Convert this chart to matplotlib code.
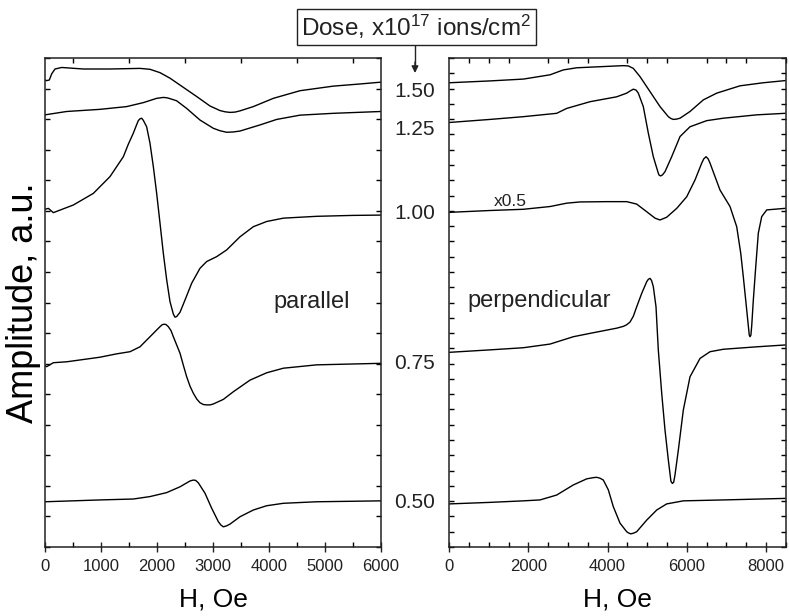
import matplotlib
matplotlib.use('Agg')
import matplotlib.pyplot as plt
from matplotlib.ticker import MultipleLocator, NullFormatter
import matplotlib.transforms as mtransforms

plt.rcParams['font.family'] = ['Liberation Sans', 'DejaVu Sans']
plt.rcParams['mathtext.default'] = 'regular'

# parallel geometry, H in Oe, amplitude in a.u. (offset stacked)
par_150_h = [0, 30, 77, 119, 179, 298, 685, 1161, 1696, 1875, 2054, 2232, 2470, 2708, 2946,
             3125, 3214, 3304, 3393, 3482, 3720, 4077, 4554, 5149, 5625, 6000]
par_150_a = [15.28, 15.26, 15.28, 15.48, 15.64, 15.69, 15.64, 15.64, 15.66, 15.63, 15.52, 15.34,
             15.04, 14.74, 14.43, 14.28, 14.24, 14.22, 14.23, 14.27, 14.41, 14.68, 14.93, 15.08,
             15.15, 15.21]

par_125_h = [0, 387, 982, 1458, 1756, 1994, 2113, 2173, 2232, 2351, 2530, 2768, 3006, 3125,
             3244, 3363, 3482, 3839, 4137, 4554, 5149, 6000]
par_125_a = [14.14, 14.25, 14.32, 14.41, 14.54, 14.68, 14.71, 14.70, 14.67, 14.60, 14.35, 13.97,
             13.70, 13.62, 13.57, 13.58, 13.61, 13.81, 13.99, 14.13, 14.19, 14.25]

par_100_h = [0, 60, 149, 506, 863, 1161, 1399, 1488, 1577, 1637, 1666, 1696, 1726, 1756, 1815,
             1875, 1935, 1994, 2054, 2113, 2173, 2232, 2292, 2321, 2351, 2411, 2500, 2619, 2768,
             2887, 3065, 3244, 3482, 3720, 3958, 4256, 4851, 5500, 6000]
par_100_a = [11.05, 11.08, 10.94, 11.19, 11.57, 12.12, 12.77, 13.18, 13.54, 13.82, 13.95, 14.01,
             14.03, 13.96, 13.75, 13.21, 12.44, 11.57, 10.59, 9.61, 8.74, 8.03, 7.62, 7.52,
             7.54, 7.68, 8.08, 8.63, 9.12, 9.34, 9.50, 9.72, 10.15, 10.48, 10.65, 10.76, 10.82,
             10.85, 10.86]

par_075_h = [0, 30, 149, 387, 982, 1280, 1518, 1696, 1875, 2054, 2090, 2125, 2160, 2202, 2250,
             2292, 2411, 2470, 2530, 2590, 2649, 2710, 2768, 2830, 2887, 2950, 3006, 3185, 3363,
             3661, 3958, 4256, 4851, 6000]
par_075_a = [5.93, 5.90, 6.03, 6.06, 6.21, 6.32, 6.39, 6.55, 6.88, 7.21, 7.27, 7.29, 7.28, 7.21,
             7.08, 6.88, 6.34, 5.95, 5.57, 5.26, 5.03, 4.84, 4.72, 4.66, 4.65, 4.65, 4.68, 4.83,
             5.08, 5.46, 5.70, 5.85, 5.96, 6.01]

par_050_h = [0, 982, 1577, 1875, 2173, 2411, 2589, 2649, 2690, 2738, 2857, 2976, 3095, 3140,
             3185, 3240, 3304, 3482, 3720, 3958, 4256, 4851, 6000]
par_050_a = [1.48, 1.54, 1.57, 1.65, 1.78, 1.97, 2.16, 2.19, 2.18, 2.10, 1.76, 1.27, 0.83, 0.72,
             0.66, 0.69, 0.75, 0.99, 1.21, 1.35, 1.43, 1.48, 1.51]

# perpendicular geometry
per_150_h = [0, 1028, 1870, 2545, 2881, 3219, 3892, 4397, 4523, 4650, 4819, 5072, 5324, 5534,
             5600, 5660, 5740, 5830, 6082, 6419, 6757, 7346, 7935, 8483]
per_150_a = [15.19, 15.25, 15.31, 15.45, 15.61, 15.68, 15.72, 15.75, 15.74, 15.66, 15.39, 14.90,
             14.41, 14.08, 14.02, 13.99, 14.00, 14.03, 14.25, 14.63, 14.85, 15.09, 15.19, 15.26]

per_125_h = [0, 1028, 1870, 2713, 2966, 3555, 4229, 4482, 4580, 4650, 4720, 4776, 4902, 5029,
             5155, 5281, 5300, 5341, 5390, 5450, 5619, 5830, 6082, 6504, 6924, 7768, 8483]
per_125_a = [13.89, 13.99, 14.08, 14.19, 14.35, 14.57, 14.73, 14.85, 14.93, 14.98, 14.95, 14.85,
             14.41, 13.54, 12.77, 12.23, 12.17, 12.14, 12.18, 12.28, 12.77, 13.43, 13.75, 13.95,
             14.03, 14.14, 14.19]

per_100_h = [0, 1028, 1870, 2545, 2966, 3303, 3977, 4482, 4735, 4988, 5198, 5324, 5493, 5746,
             5999, 6209, 6378, 6430, 6487, 6540, 6588, 6840, 7093, 7262, 7364, 7429, 7498, 7556,
             7580, 7599, 7620, 7641, 7682, 7743, 7808, 7894, 8021, 8483]
per_100_a = [10.95, 11.01, 11.05, 11.14, 11.25, 11.29, 11.30, 11.30, 11.22, 10.97, 10.76, 10.70,
             10.79, 11.08, 11.46, 12.01, 12.56, 12.70, 12.77, 12.70, 12.56, 11.68, 11.14, 10.48,
             9.61, 8.84, 7.97, 7.23, 6.93, 6.88, 6.93, 7.23, 8.08, 9.17, 10.27, 10.81, 11.03,
             11.08]

per_075_h = [0, 1028, 1870, 2545, 3133, 3555, 4229, 4400, 4480, 4566, 4650, 4735, 4862, 4988,
             5030, 5072, 5110, 5155, 5223, 5281, 5367, 5450, 5534, 5600, 5636, 5670, 5703, 5787,
             5913, 6082, 6335, 6588, 6924, 7768, 8483]
per_075_a = [6.37, 6.45, 6.52, 6.64, 6.88, 6.99, 7.16, 7.22, 7.27, 7.36, 7.55, 7.86, 8.30, 8.68,
             8.76, 8.79, 8.72, 8.52, 7.86, 6.45, 5.03, 3.83, 2.85, 2.15, 2.08, 2.12, 2.36, 3.17,
             4.48, 5.57, 6.17, 6.39, 6.47, 6.55, 6.61]

per_050_h = [0, 1028, 1870, 2292, 2713, 3133, 3472, 3640, 3725, 3810, 3892, 4018, 4144, 4314,
             4482, 4530, 4584, 4650, 4735, 4988, 5241, 5493, 5913, 6924, 8483]
per_050_a = [1.41, 1.46, 1.51, 1.54, 1.70, 2.03, 2.23, 2.27, 2.28, 2.25, 2.19, 1.87, 1.32, 0.78,
             0.50, 0.46, 0.43, 0.45, 0.50, 0.88, 1.21, 1.41, 1.51, 1.54, 1.59]

doses = ['1.50', '1.25', '1.00', '0.75', '0.50']

fig = plt.figure(figsize=(7.89, 6.16), dpi=100)
ax1 = fig.add_axes([45 / 789, 69 / 616, 336 / 789, 489 / 616])
ax2 = fig.add_axes([449.3 / 789, 69 / 616, 336.4 / 789, 489 / 616])

for h, a in [(par_150_h, par_150_a), (par_125_h, par_125_a), (par_100_h, par_100_a),
             (par_075_h, par_075_a), (par_050_h, par_050_a)]:
    ax1.plot(h, a, color='black', lw=1.0)
for h, a in [(per_150_h, per_150_a), (per_125_h, per_125_a), (per_100_h, per_100_a),
             (per_075_h, per_075_a), (per_050_h, per_050_a)]:
    ax2.plot(h, a, color='black', lw=1.0)

ax1.set_xlim(0, 6000)
ax2.set_xlim(0, 8500)
for ax in (ax1, ax2):
    ax.set_ylim(0, 16)
    for s in ax.spines.values():
        s.set_linewidth(1.1)
        s.set_color('#222222')
    ax.tick_params(axis='x', which='major', direction='inout', length=7, width=1,
                   labelsize=12, pad=5, top=False, colors='#222222')
    ax.tick_params(axis='x', which='minor', direction='in', length=3.5, width=1, top=True)
    ax.tick_params(axis='y', which='both', direction='in', length=3.5, width=1,
                   left=True, right=True, labelleft=False)
    ax.set_xlabel('H, Oe', fontsize=19, labelpad=10)

ax1.xaxis.set_major_locator(MultipleLocator(1000))
ax1.xaxis.set_minor_locator(MultipleLocator(500))
ax1.yaxis.set_major_locator(MultipleLocator(1))
ax2.xaxis.set_major_locator(MultipleLocator(2000))
ax2.xaxis.set_minor_locator(MultipleLocator(500))
ax2.yaxis.set_major_locator(MultipleLocator(0.5))
for ax in (ax1, ax2):
    ax.yaxis.set_major_formatter(NullFormatter())

ax1.set_ylabel('Amplitude, a.u.', fontsize=26, labelpad=3)

# dose labels between the panels
label_y = [14.92, 13.65, 10.90, 5.99, 1.44]
trans = mtransforms.blended_transform_factory(ax1.transAxes, ax1.transData)
for d, y in zip(doses, label_y):
    ax1.text(1.101, y, d, transform=trans, ha='center', va='center', fontsize=15,
             color='#222222', clip_on=False)

fig.text(312 / 789, 1 - 302 / 616, 'parallel', ha='center', va='center', fontsize=17,
         color='#222222')
fig.text(467 / 789, 1 - 301 / 616, 'perpendicular', ha='left', va='center', fontsize=17,
         color='#222222')
fig.text(510 / 789, 1 - 202 / 616, 'x0.5', ha='center', va='center', fontsize=12.5,
         color='#222222')

fig.text(416.5 / 789, 1 - 27 / 616, 'Dose, x10$^{17}$ ions/cm$^{2}$', ha='center', va='center',
         fontsize=17.5, color='#222222',
         bbox=dict(boxstyle='square,pad=0.18', fc='white', ec='#222222', lw=1.0))
fig.add_artist(plt.Line2D([415 / 789, 415 / 789], [1 - 44 / 616, 1 - 66 / 616],
                          color='#222222', lw=1.0))
ax1.annotate('', xy=(415 / 789, 1 - 73 / 616), xytext=(415 / 789, 1 - 62 / 616),
             xycoords='figure fraction', textcoords='figure fraction',
             arrowprops=dict(arrowstyle='-|>', color='#222222', lw=1.0,
                             mutation_scale=10, shrinkA=0, shrinkB=0))

fig.savefig('out.png', dpi=100)
